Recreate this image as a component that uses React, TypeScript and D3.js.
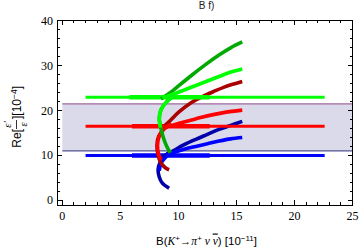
import React from 'react';
import * as d3 from 'd3';

const W = 360;
const H = 248;

// axis ticks
const xMajor = [0, 5, 10, 15, 20, 25];
const xMinor = d3.range(0, 26, 1);
const yMajor = [0, 10, 20, 30, 40];
const yMinor = d3.range(0, 41, 2);

// shaded band (experimental range)
const bandLow = 11.0;
const bandHigh = 21.5;
const bandX = [0, 25];

// flat lines: [x, y]
const blueFlat = [[2.0, 10.0], [22.6, 10.0]];
const blueFlatThick = [[6.0, 10.0], [12.7, 10.0]];
const redFlat = [[2.0, 16.5], [22.6, 16.5]];
const redFlatThick = [[6.0, 16.5], [12.7, 16.5]];
const greenFlat = [[2.0, 23.0], [22.6, 23.0]];
const greenFlatThick = [[5.8, 23.0], [12.7, 23.0]];

// blue family
const blueDarkUp = [[8.6, 9.6], [9.0, 10.2], [9.6, 11.1], [10.5, 12.4], [11.5, 13.6], [12.5, 14.7], [13.5, 15.8], [14.5, 16.7], [15.5, 17.6]];
const blueBrightUp = [[8.8, 9.9], [9.5, 10.6], [10.5, 11.4], [11.5, 12.0], [12.5, 12.6], [13.5, 13.2], [14.5, 13.7], [15.5, 14.0]];
const blueDarkDown = [[9.3, 10.8], [8.8, 9.8], [8.4, 8.3], [8.25, 6.8], [8.35, 5.2], [8.6, 3.9], [9.2, 2.7]];
const blueBrightDown = [[9.4, 10.6], [8.9, 9.6], [8.5, 8.2], [8.35, 6.6]];

// red family
const redDarkUp = [[8.8, 16.6], [9.3, 17.8], [10.0, 19.6], [11.0, 21.6], [12.0, 23.0], [13.0, 24.2], [14.0, 25.3], [15.5, 26.5]];
const redBrightUp = [[9.0, 16.4], [10.0, 17.1], [11.0, 17.8], [12.0, 18.5], [13.0, 19.1], [14.0, 19.6], [15.5, 20.1]];
const redDarkDown = [[9.4, 17.0], [8.8, 16.0], [8.3, 14.3], [8.15, 12.2], [8.25, 10.0], [8.5, 8.3], [8.9, 7.2], [9.2, 6.8]];
const redBrightDown = [[9.4, 17.0], [8.8, 16.0], [8.35, 14.3], [8.2, 12.2], [8.3, 10.2], [8.5, 9.0]];

// green family
const greenDarkUp = [[8.5, 22.6], [9.2, 23.8], [10.2, 25.9], [11.2, 28.0], [12.3, 30.2], [13.5, 32.4], [14.5, 34.0], [15.5, 35.3]];
const greenBrightUp = [[8.6, 22.9], [9.5, 23.6], [10.5, 24.6], [11.5, 25.6], [12.5, 26.6], [13.5, 27.6], [14.5, 28.6], [15.5, 29.3]];
const greenDarkDown = [[9.6, 23.3], [9.0, 22.0], [8.5, 20.2], [8.35, 18.3], [8.5, 16.0], [8.7, 14.0], [9.0, 12.0], [9.3, 10.6]];
const greenBrightDown = [[9.6, 23.3], [9.0, 22.0], [8.5, 20.2], [8.35, 18.3], [8.45, 16.2]];

const C = {
  blue: '#0000ff', blueDark: '#0000aa',
  red: '#ff0000', redDark: '#aa0000',
  green: '#00ff00', greenDark: '#00aa00',
};

const series = [
  { pts: blueFlat, color: C.blue, w: 3, flat: true },
  { pts: blueFlatThick, color: C.blue, w: 4.5, flat: true },
  { pts: blueDarkUp, color: C.blueDark, w: 3.6 },
  { pts: blueBrightUp, color: C.blue, w: 3.6 },
  { pts: blueDarkDown, color: C.blueDark, w: 3.6 },
  { pts: blueBrightDown, color: C.blue, w: 3.6 },
  { pts: redFlat, color: C.red, w: 3, flat: true },
  { pts: redFlatThick, color: C.red, w: 4.5, flat: true },
  { pts: redDarkUp, color: C.redDark, w: 3.6 },
  { pts: redBrightUp, color: C.red, w: 3.6 },
  { pts: redDarkDown, color: C.redDark, w: 3.6 },
  { pts: redBrightDown, color: C.red, w: 3.6 },
  { pts: greenFlat, color: C.green, w: 3, flat: true },
  { pts: greenFlatThick, color: C.green, w: 4.5, flat: true },
  { pts: greenDarkUp, color: C.greenDark, w: 3.6 },
  { pts: greenBrightUp, color: C.green, w: 3.6 },
  { pts: greenDarkDown, color: C.greenDark, w: 3.6 },
  { pts: greenBrightDown, color: C.green, w: 3.6 },
];

export default function App() {
  const L = 57, R = 352.5, T = 20, B = 205;
  const x = d3.scaleLinear().domain([-0.46, 25]).range([L, R]);
  const y = d3.scaleLinear().domain([-1.05, 40.2]).range([B, T]);
  const curve = d3.line<number[]>().x(d => x(d[0])).y(d => y(d[1])).curve(d3.curveCatmullRom.alpha(0.5));
  const flatLine = d3.line<number[]>().x(d => x(d[0])).y(d => y(d[1]));

  const serif = "'Liberation Serif', 'Times New Roman', serif";
  const sans = "'Liberation Sans', Arial, sans-serif";

  return (
    <svg width={W} height={H} style={{ position: 'fixed', left: 0, top: 0, background: '#fff' }}>
      <rect x={0} y={0} width={W} height={H} fill="#fff" />
      {/* band */}
      <rect x={x(bandX[0])} y={y(bandHigh)} width={x(bandX[1]) - x(bandX[0])} height={y(bandLow) - y(bandHigh)} fill="#dadaea" />
      <line x1={x(bandX[0])} x2={x(bandX[1])} y1={y(bandHigh)} y2={y(bandHigh)} stroke="#b48cb4" strokeWidth={1.6} />
      <line x1={x(bandX[0])} x2={x(bandX[1])} y1={y(bandLow)} y2={y(bandLow)} stroke="#55558f" strokeWidth={1.2} />

      {/* curves */}
      {series.map((s, i) => (
        <path key={i} d={(s.flat ? flatLine : curve)(s.pts as number[][]) || ''} fill="none" stroke={s.color}
          strokeWidth={s.w} strokeLinecap="butt" strokeLinejoin="round" />
      ))}

      {/* frame */}
      <rect x={L} y={T} width={R - L} height={B - T} fill="none" stroke="#000" strokeWidth={1} shapeRendering="crispEdges" />
      <g stroke="#000" strokeWidth={1} shapeRendering="crispEdges">
        {xMinor.map(v => {
          const len = xMajor.includes(v) ? 5 : 2.8;
          return (
            <g key={'xt' + v}>
              <line x1={x(v)} x2={x(v)} y1={B} y2={B - len} />
              <line x1={x(v)} x2={x(v)} y1={T} y2={T + len} />
            </g>
          );
        })}
        {yMinor.map(v => {
          const len = yMajor.includes(v) ? 5 : 2.8;
          return (
            <g key={'yt' + v}>
              <line x1={L} x2={L + len} y1={y(v)} y2={y(v)} />
              <line x1={R} x2={R - len} y1={y(v)} y2={y(v)} />
            </g>
          );
        })}
      </g>
      {xMajor.map(v => (
        <text key={'xl' + v} x={x(v)} y={220} textAnchor="middle" fontFamily={serif} fontSize={12} fill="#000">{v}</text>
      ))}
      {yMajor.map(v => (
        <text key={'yl' + v} x={53} y={y(v) + 4} textAnchor="end" fontFamily={serif} fontSize={12} fill="#000">{v}</text>
      ))}

      {/* title */}
      <text x={206.5} y={9} textAnchor="middle" fontFamily={sans} fontSize={10} fill="#222">B f)</text>

      {/* x label */}
      <text x={206.5} y={244.5} textAnchor="middle" fontFamily={sans} fontSize={11.5} fill="#000">
        B(<tspan fontFamily={serif} fontStyle="italic">K</tspan><tspan fontSize={8} dy={-4}>+</tspan><tspan dy={4}>→</tspan><tspan fontFamily={serif} fontStyle="italic">π</tspan><tspan fontSize={8} dy={-4}>+</tspan><tspan dy={4} fontFamily={serif} fontStyle="italic"> ν </tspan><tspan fontFamily={serif} fontStyle="italic" textDecoration="overline">ν</tspan>) [10<tspan fontSize={8} dy={-4}>−11</tspan><tspan dy={4}>]</tspan>
      </text>

      {/* y label */}
      <g transform="translate(21,116) rotate(-90)" fontFamily={sans} fontSize={12} fill="#000">
        <text x={-13} y={0} textAnchor="end">Re[</text>
        <text x={-8.5} y={-10} textAnchor="middle" fontFamily={serif} fontStyle="italic" fontSize={10.5}>ε′</text>
        <line x1={-13} x2={-4} y1={-4.5} y2={-4.5} stroke="#000" strokeWidth={0.8} />
        <text x={-8.5} y={5.5} textAnchor="middle" fontFamily={serif} fontStyle="italic" fontSize={10.5}>ε</text>
        <text x={-3} y={0} textAnchor="start">][10<tspan fontSize={8.5} dy={-4.5}>−4</tspan><tspan dy={4.5}>]</tspan></text>
      </g>
    </svg>
  );
}
